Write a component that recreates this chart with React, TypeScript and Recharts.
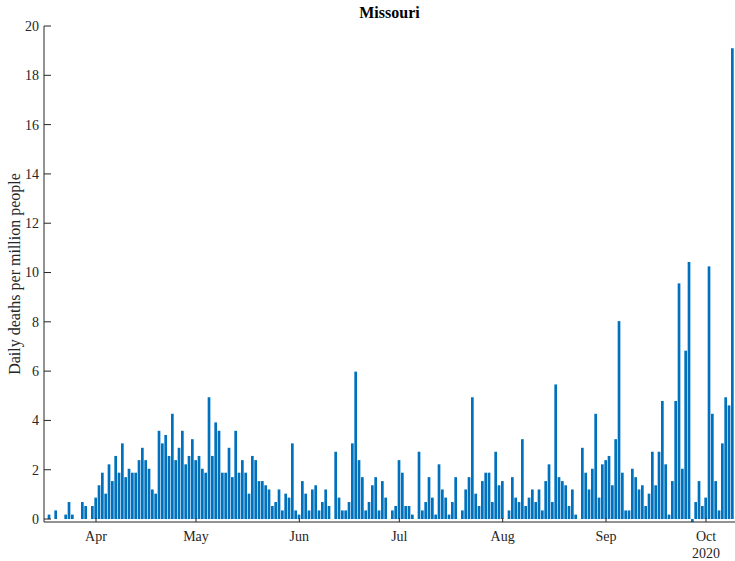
import { BarChart, Bar, XAxis, YAxis } from 'recharts'

// daily deaths per million, Mar 18 .. Oct 9 2020 (one value per day)
const deaths: number[] = [
  0.18, 0, 0.35, 0, 0, 0.18, 0.69, 0.18, 0, 0,
  0.69, 0.53, 0, 0.53, 0.87, 1.37, 1.88, 1.03, 2.22, 1.54,
  2.56, 1.88, 3.07, 1.7, 2.04, 1.88, 1.88, 2.39, 2.89, 2.39,
  2.04, 1.2, 1.03, 3.58, 3.07, 3.41, 2.56, 4.27, 2.39, 2.89,
  3.58, 2.22, 2.56, 3.24, 2.39, 2.56, 2.04, 1.88, 4.94, 2.56,
  3.92, 3.58, 1.88, 1.88, 2.89, 1.7, 3.58, 1.88, 2.39, 1.88,
  1.03, 2.56, 2.39, 1.54, 1.54, 1.37, 1.2, 0.53, 0.69, 1.2,
  0.35, 1.03, 0.87, 3.07, 0.35, 0.18, 1.54, 1.03, 0.35, 1.2,
  1.37, 0.35, 0.69, 1.2, 0.53, 0, 2.73, 0.87, 0.35, 0.35,
  0.69, 3.07, 5.98, 2.39, 1.7, 0.35, 0.69, 1.37, 1.7, 0.35,
  1.54, 0.87, 0, 0.35, 0.53, 2.39, 1.88, 0.53, 0.53, 0.18,
  0, 2.73, 0.35, 0.69, 1.7, 0.87, 0.18, 2.22, 1.2, 0.87,
  0.18, 0.69, 1.7, 0, 0.35, 1.2, 1.7, 4.94, 1.03, 0.53,
  1.54, 1.88, 1.88, 0.69, 2.73, 1.37, 1.54, 0, 0.35, 1.7,
  0.87, 0.69, 3.24, 0.53, 0.87, 1.2, 0.69, 1.2, 0.35, 1.54,
  2.22, 0.69, 5.46, 1.7, 1.54, 1.37, 0.53, 1.2, 0.18, 0,
  2.89, 1.88, 1.2, 2.04, 4.27, 0.87, 2.22, 2.39, 2.56, 1.37,
  3.24, 8.03, 1.88, 0.35, 0.35, 2.04, 1.7, 1.2, 1.37, 0.53,
  1.03, 2.73, 1.37, 2.73, 4.79, 2.22, 0.18, 1.54, 4.79, 9.56,
  2.04, 6.83, 10.43, -0.12, 0.69, 1.54, 0.53, 0.87, 10.25, 4.27,
  1.54, 0.35, 3.07, 4.94, 4.61, 19.1,
]

// first day of each month, as day index from Mar 18
const monthTicks = [14, 44, 75, 105, 136, 167, 197]
const monthLabels = ['Apr', 'May', 'Jun', 'Jul', 'Aug', 'Sep', 'Oct']
const yTicks = [0, 2, 4, 6, 8, 10, 12, 14, 16, 18, 20]

const data = deaths.map((v, i) => ({ i, v }))

const AXIS = '#262626'
const FONT = '"Liberation Serif", "Times New Roman", serif'

const YTick = (props: any) => {
  const { x, y, payload } = props
  return (
    <g>
      <line x1={x} x2={x + 7} y1={y} y2={y} stroke={AXIS} />
      <text x={x - 5} y={y} dy="0.35em" textAnchor="end" fontSize={14} fill={AXIS} fontFamily={FONT}>
        {payload.value}
      </text>
    </g>
  )
}

const XTick = (props: any) => {
  const { x, y, payload } = props
  const idx = monthTicks.indexOf(payload.value)
  const label = monthLabels[idx]
  return (
    <g>
      <line x1={x} x2={x} y1={y} y2={y - 4} stroke={AXIS} />
      <text x={x} y={y + 19} textAnchor="middle" fontSize={14} fill={AXIS} fontFamily={FONT}>
        {label}
      </text>
      {label === 'Oct' && (
        <text x={x} y={y + 36} textAnchor="middle" fontSize={14} fill={AXIS} fontFamily={FONT}>
          2020
        </text>
      )}
    </g>
  )
}

export default function App() {
  return (
    <div style={{ position: 'absolute', left: 0, top: 0, width: 735, height: 561, background: '#fff' }}>
      <div
        style={{
          position: 'absolute',
          left: 44,
          width: 691,
          top: 5,
          lineHeight: '16px',
          textAlign: 'center',
          fontFamily: FONT,
          fontWeight: 'bold',
          fontSize: 16,
          color: '#000',
        }}
      >
        Missouri
      </div>
      <BarChart width={735} height={561} data={data} margin={{ top: 26, right: 0, bottom: 0, left: 0 }}>
        <XAxis
          dataKey="i"
          type="number"
          domain={[-1.6, 205.7]}
          allowDataOverflow
          ticks={monthTicks}
          interval={0}
          height={39}
          tickSize={0}
          tickMargin={0}
          tickLine={false}
          axisLine={{ stroke: AXIS }}
          tick={<XTick />}
        />
        <YAxis
          type="number"
          domain={[-0.12, 20]}
          allowDataOverflow
          ticks={yTicks}
          interval={0}
          width={44}
          tickSize={0}
          tickMargin={0}
          tickLine={false}
          axisLine={{ stroke: AXIS }}
          tick={<YTick />}
          label={{
            content: () => (
              <text
                x={20}
                y={274}
                transform="rotate(-90 20 274)"
                textAnchor="middle"
                fontSize={16}
                fill={AXIS}
                fontFamily={FONT}
              >
                Daily deaths per million people
              </text>
            ),
          }}
        />
        <Bar dataKey="v" fill="#0072BD" barSize={2.7} isAnimationActive={false} />
      </BarChart>
    </div>
  )
}
